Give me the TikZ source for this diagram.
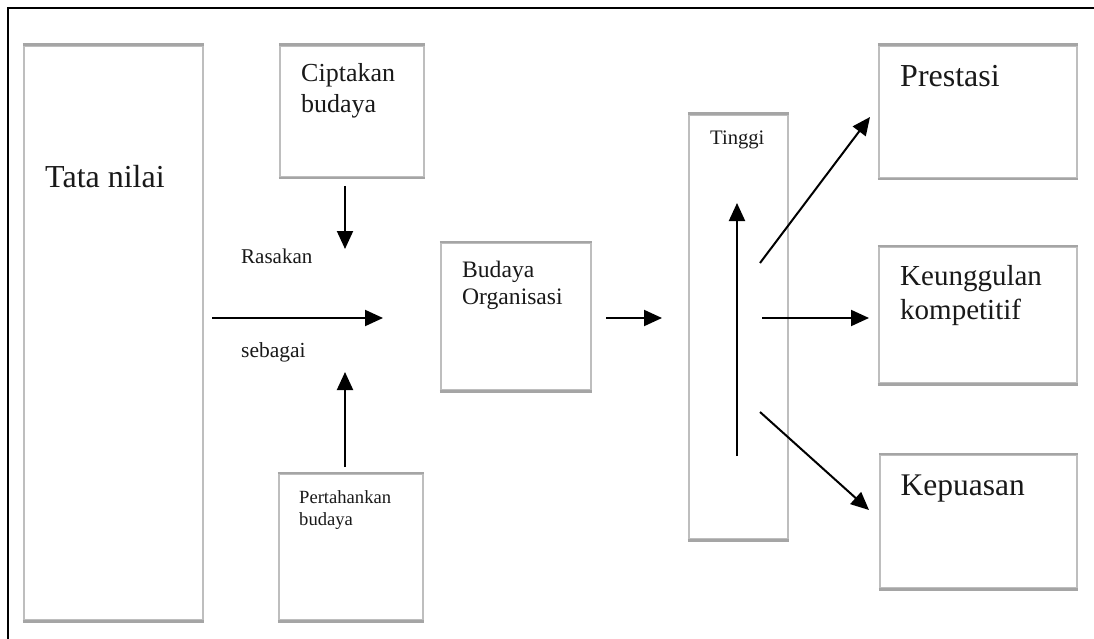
\documentclass[tikz,border=0pt]{standalone}
\usepackage{fontspec}
\setmainfont{Liberation Serif}
\usetikzlibrary{arrows.meta}
\definecolor{boxgray}{RGB}{190,190,190}
\definecolor{boxdark}{RGB}{165,165,165}
\begin{document}
\begin{tikzpicture}[x=1pt,y=-1pt,
  box/.style={draw=boxgray, line width=2.5pt, fill=white, rectangle, inner sep=0pt},
  txt/.style={inner sep=0pt, anchor=base west, align=left, text=black!90},
  flow/.style={line width=2pt, -{Triangle[length=18pt,width=16pt]}}]
  \useasboundingbox (0,0) rectangle (1094,639);
  \fill[white] (0,0) rectangle (1094,639);
  % outer frame (left and top edges)
  \draw[line width=2pt] (8,640) -- (8,8) -- (1095,8);

  % boxes
  \node[box, minimum width=179pt, minimum height=574pt] (tata) at (113.5,333) {};
  \node[box, minimum width=144pt, minimum height=131pt] (cipta) at (352,111.5) {};
  \node[box, minimum width=144pt, minimum height=146pt] (perta) at (351,547) {};
  \node[box, minimum width=150pt, minimum height=147pt] (budaya) at (516,316.5) {};
  \node[box, minimum width=99pt, minimum height=424pt] (tinggi) at (738.5,327) {};
  \node[box, minimum width=198pt, minimum height=132pt] (prestasi) at (978,112) {};
  \node[box, minimum width=198pt, minimum height=136pt] (keung) at (978,315) {};
  \node[box, minimum width=197pt, minimum height=133pt] (puas) at (978.5,521.5) {};

  % darker top and bottom edges of the boxes
  \foreach \b in {tata,cipta,perta,budaya,tinggi,prestasi,keung,puas}{
    \draw[boxdark, line width=2.5pt] (\b.north west) -- (\b.north east);
    \draw[boxdark, line width=2.5pt] (\b.south west) -- (\b.south east);
  }

  % box texts (two-line nodes sit on the baseline of their last line)
  \node[txt, font=\fontsize{32}{36}\selectfont] (tataT) at (45,188) {Tata nilai};
  \node[txt, font=\fontsize{26}{31}\selectfont] (ciptaT) at (301,113) {Ciptakan\\budaya};
  \node[txt, font=\fontsize{18.6}{22}\selectfont] (pertaT) at (299,525) {Pertahankan\\budaya};
  \node[txt, font=\fontsize{23.6}{27}\selectfont] (budayaT) at (462,304) {Budaya\\Organisasi};
  \node[txt, font=\fontsize{20.6}{24}\selectfont] (tinggiT) at (710,145) {Tinggi};
  \node[txt, font=\fontsize{32}{36}\selectfont] (prestasiT) at (900,87) {Prestasi};
  \node[txt, font=\fontsize{29}{34}\selectfont] (keungT) at (900,319) {Keunggulan\\kompetitif};
  \node[txt, font=\fontsize{31.5}{36}\selectfont] (puasT) at (900.5,495) {Kepuasan};

  % free labels
  \node[txt, font=\fontsize{21}{25}\selectfont] (rasakan) at (241,263) {Rasakan};
  \node[txt, font=\fontsize{21.5}{25}\selectfont] (sebagai) at (241,357) {sebagai};

  % arrow end points
  \coordinate (c1) at (345,186);   \coordinate (c2) at (345,249);
  \coordinate (p1) at (345,467);   \coordinate (p2) at (345,372);
  \coordinate (m1) at (212,318);   \coordinate (m2) at (383,318);
  \coordinate (b1) at (606,318);   \coordinate (b2) at (662,318);
  \coordinate (t1) at (737,456);   \coordinate (t2) at (737,203);
  \coordinate (u1) at (760,263);   \coordinate (u2) at (870,117);
  \coordinate (h1) at (762,318);   \coordinate (h2) at (869,318);
  \coordinate (d1) at (760,412);   \coordinate (d2) at (869,510);

  % connectors
  \draw[flow] (c1) -- (c2);
  \draw[flow] (p1) -- (p2);
  \draw[flow] (m1) -- (m2);
  \draw[flow] (b1) -- (b2);
  \draw[flow] (t1) -- (t2);
  \draw[flow] (u1) -- (u2);
  \draw[flow] (h1) -- (h2);
  \draw[flow] (d1) -- (d2);
\end{tikzpicture}
\end{document}
